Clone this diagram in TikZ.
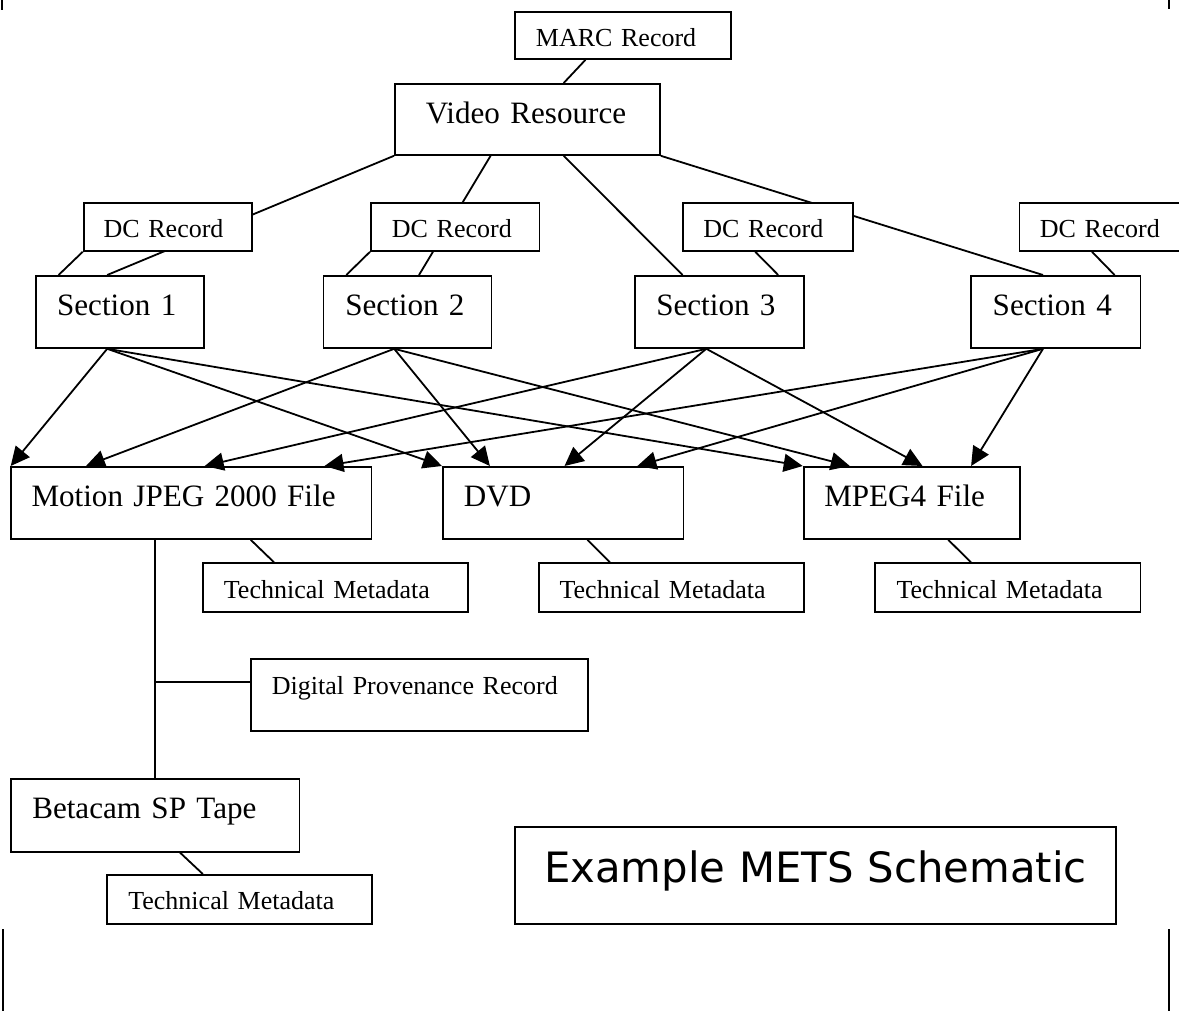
\documentclass[tikz,border=0pt]{standalone}
\usepackage{fontspec}
\setmainfont{Liberation Serif}
\newfontfamily\titlefont{DejaVu Sans}
\usetikzlibrary{arrows.meta}
\tikzset{
  ln/.style={line width=1.8pt},
  arr/.style={ln, -{Triangle[length=19pt,width=18pt]}},
  bx/.style={draw, ln, fill=white, anchor=north west, inner ysep=0pt, align=left},
  big/.style={font=\fontsize{31.1}{36}\selectfont},
  small/.style={font=\fontsize{26}{30}\selectfont},
  pagemark/.style={line width=2pt}
}
\begin{document}
\begin{tikzpicture}[x=1pt,y=-1pt]
\useasboundingbox (0,0) rectangle (1179,1011);
% page marks
\draw[pagemark] (2,0) -- (2,10);
\draw[pagemark] (1169,0) -- (1169,9);
\draw[pagemark] (2.5,929) -- (2.5,1011);
\draw[pagemark] (1169,929) -- (1169,1011);

% top level
\node[bx, small, inner xsep=21pt, text width=174pt, text height=35pt, text depth=12pt] (marc) at (514,11) {MARC Record};
\node[bx, big, inner xsep=31pt, text width=203pt, text height=40pt, text depth=31pt] (video) at (394,83) {\mbox{Video Resource}};

% sections
\node[bx, big, inner xsep=21pt, text width=125.6pt, text height=39.3pt, text depth=32.7pt] (s1) at (35.2,275) {\mbox{Section 1}};
\node[bx, big, inner xsep=21.8pt, text width=124.4pt, text height=39.3pt, text depth=32.7pt] (s2) at (322.6,275) {\mbox{Section 2}};
\node[bx, big, inner xsep=21.4pt, text width=126.3pt, text height=39.3pt, text depth=32.7pt] (s3) at (634,275) {\mbox{Section 3}};
\node[bx, big, inner xsep=21.4pt, text width=126.3pt, text height=39.3pt, text depth=32.7pt] (s4) at (970.4,275) {\mbox{Section 4}};

% video -> sections (partly hidden by DC boxes)
\draw[ln] ([xshift=71.5pt]marc.south west) -- ([xshift=169.7pt]video.north west);
\draw[ln] (video.south west) -- ([xshift=72pt]s1.north west);
\draw[ln] ([xshift=96.6pt]video.south west) -- ([xshift=96.4pt]s2.north west);
\draw[ln] ([xshift=169.7pt]video.south west) -- ([xshift=48.6pt]s3.north west);
\draw[ln] (video.south east) -- ([xshift=72.6pt]s4.north west);

% DC records
\node[bx, small, inner xsep=20pt, text width=128pt, text height=35pt, text depth=13pt] (dc1) at (82.7,202) {DC Record};
\node[bx, small, inner xsep=21pt, text width=126.5pt, text height=35pt, text depth=13pt] (dc2) at (370,202) {DC Record};
\node[bx, small, inner xsep=20.7pt, text width=128.5pt, text height=35pt, text depth=13pt] (dc3) at (681.8,202) {DC Record};
\node[bx, small, inner xsep=20.4pt, text width=129.2pt, text height=35pt, text depth=13pt] (dc4) at (1018.6,202) {DC Record};

\draw[ln] (dc1.south west) -- ([xshift=23.4pt]s1.north west);
\draw[ln] (dc2.south west) -- ([xshift=23.7pt]s2.north west);
\draw[ln] ([xshift=73.5pt]dc3.south west) -- ([xshift=144.2pt]s3.north west);
\draw[ln] ([xshift=73.4pt]dc4.south west) -- ([xshift=144.2pt]s4.north west);

% files
\node[bx, big, inner xsep=20.3pt, text width=319.6pt, text height=39.7pt, text depth=32.3pt] (mj) at (10.3,466) {Motion JPEG 2000 File};
\node[bx, big, inner xsep=21pt, text width=198.6pt, text height=39.7pt, text depth=32.3pt] (dvd) at (442,466) {DVD};
\node[bx, big, inner xsep=20.7pt, text width=174.9pt, text height=39.7pt, text depth=32.3pt] (mp4) at (802.7,466) {MPEG4 File};

% arrows
\draw[arr] ([xshift=72pt]s1.south west) -- ([xshift=0.4pt]mj.north west);
\draw[arr] ([xshift=72pt]s1.south west) -- (dvd.north west);
\draw[arr] ([xshift=72pt]s1.south west) -- (mp4.north west);
\draw[arr] ([xshift=71.6pt]s2.south west) -- ([xshift=75.7pt]mj.north west);
\draw[arr] ([xshift=71.6pt]s2.south west) -- ([xshift=47.9pt]dvd.north west);
\draw[arr] ([xshift=71.6pt]s2.south west) -- ([xshift=47.1pt]mp4.north west);
\draw[arr] ([xshift=72.3pt]s3.south west) -- ([xshift=194.4pt]mj.north west);
\draw[arr] ([xshift=72.3pt]s3.south west) -- ([xshift=122.5pt]dvd.north west);
\draw[arr] ([xshift=72.3pt]s3.south west) -- ([xshift=119.8pt]mp4.north west);
\draw[arr] ([xshift=72.6pt]s4.south west) -- ([xshift=314.2pt]mj.north west);
\draw[arr] ([xshift=72.6pt]s4.south west) -- ([xshift=195.4pt]dvd.north west);
\draw[arr] ([xshift=72.6pt]s4.south west) -- ([xshift=168.4pt]mp4.north west);

% technical metadata
\node[bx, small, inner xsep=21pt, text width=222.9pt, text height=35pt, text depth=13.4pt] (tm1) at (202,562.3) {Technical Metadata};
\node[bx, small, inner xsep=21pt, text width=223.3pt, text height=35pt, text depth=13.4pt] (tm2) at (537.7,562.3) {Technical Metadata};
\node[bx, small, inner xsep=21.7pt, text width=222.1pt, text height=35pt, text depth=13.4pt] (tm3) at (874,562.3) {Technical Metadata};
\draw[ln] ([xshift=240.4pt]mj.south west) -- ([xshift=72pt]tm1.north west);
\draw[ln] ([xshift=145.4pt]dvd.south west) -- ([xshift=72.2pt]tm2.north west);
\draw[ln] ([xshift=145.5pt]mp4.south west) -- ([xshift=97pt]tm3.north west);

% provenance and source tape
\node[bx, small, inner xsep=21pt, text width=294.7pt, text height=35pt, text depth=36.7pt] (dpr) at (250,658.3) {Digital Provenance Record};
\node[bx, big, inner xsep=21.1pt, text width=246pt, text height=40pt, text depth=33pt] (bc) at (10.3,777.7) {Betacam SP Tape};
\node[bx, small, inner xsep=21.4pt, text width=222pt, text height=34.3pt, text depth=14.4pt] (tm4) at (106,874) {Technical Metadata};
\coordinate (br) at (155,682.3);
\draw[ln] ([xshift=144.7pt]mj.south west) -- ([xshift=144.7pt]bc.north west);
\draw[ln] (br) -- (br -| dpr.west);
\draw[ln] ([xshift=169.6pt]bc.south west) -- ([xshift=96.8pt]tm4.north west);

% title
\node[draw, ln, anchor=north west, inner sep=0pt, text width=601pt, align=center, text height=56pt, text depth=41pt, font=\titlefont\fontsize{41.8}{48}\selectfont] (title) at (514,825.7) {Example METS Schematic};
\end{tikzpicture}
\end{document}
